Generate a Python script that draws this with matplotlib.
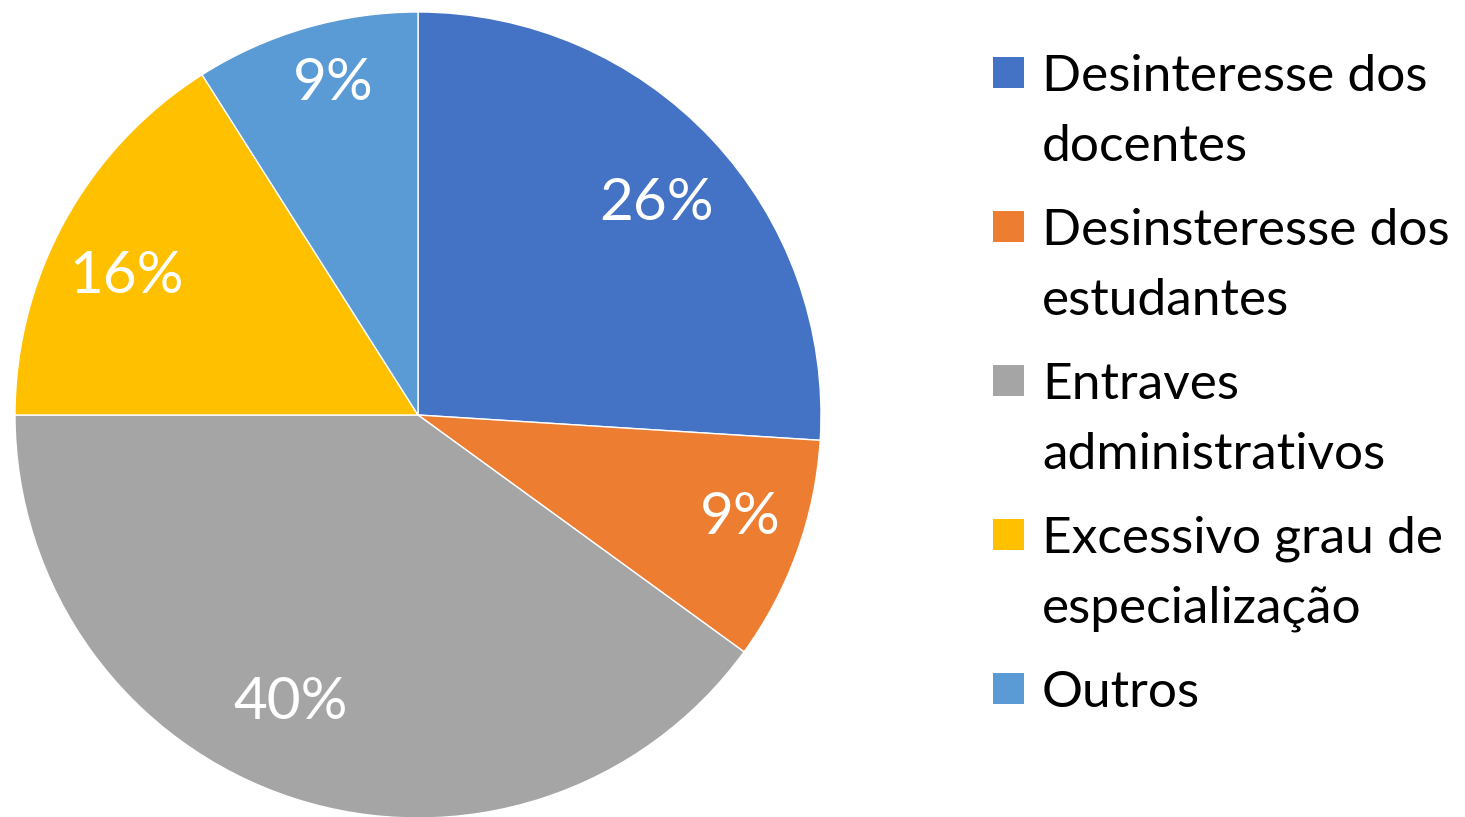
import matplotlib
matplotlib.use("Agg")
import numpy as np
import matplotlib.pyplot as plt
from matplotlib.patches import Rectangle

plt.rcParams['font.family'] = ['Lato', 'DejaVu Sans']

categorias = [
    "Desinteresse dos\ndocentes",
    "Desinsteresse dos\nestudantes",
    "Entraves\nadministrativos",
    "Excessivo grau de\nespecialização",
    "Outros",
]
percentuais = [26, 9, 40, 16, 9]
cores = ["#4472C4", "#ED7D31", "#A5A5A5", "#FFC000", "#5B9BD5"]

# label placement: radial distance and angular nudge (degrees) per slice
dist_rotulo = [0.79, 0.84, 0.78, 0.80, 0.85]
desvio_rotulo = [-1.6, 2.2, -6.0, 3.3, -1.8]

W, H = 1465, 817
fig = plt.figure(figsize=(W / 100, H / 100), dpi=100)

# pie centred at (418, 415) px with radius ~403 px
cx, cy, r = 418, 415, 403
ax = fig.add_axes([(cx - r) / W, (H - cy - r) / H, 2 * r / W, 2 * r / H])
wedges, _, autotexts = ax.pie(
    percentuais, colors=cores, startangle=90, counterclock=False,
    autopct=lambda p: f"{p:.0f}%", pctdistance=0.8, radius=1,
    wedgeprops=dict(edgecolor="white", linewidth=1),
    textprops=dict(color="white", fontsize=42),
)
for w, t, d, a in zip(wedges, autotexts, dist_rotulo, desvio_rotulo):
    ang = np.deg2rad((w.theta1 + w.theta2) / 2 + a)
    t.set_position((d * np.cos(ang), d * np.sin(ang)))
ax.set_xlim(-1, 1)
ax.set_ylim(-1, 1)
ax.set_aspect("equal")
ax.axis("off")

# legend drawn by hand so the square sits beside the first line
y = 72
line_h = 70
gap = 84
for cat, cor in zip(categorias, cores):
    lines = cat.split("\n")
    fig.patches.append(Rectangle((993 / W, (H - y - 15.5) / H), 31 / W, 31 / H,
                                 transform=fig.transFigure, facecolor=cor,
                                 edgecolor="none"))
    for k, ln in enumerate(lines):
        fig.text(1042 / W, (H - (y + 19 + k * line_h)) / H, ln, fontsize=37,
                 va="baseline", ha="left", color="black")
    y += (len(lines) - 1) * line_h + gap

fig.savefig("out.png", dpi=100, facecolor="white")
